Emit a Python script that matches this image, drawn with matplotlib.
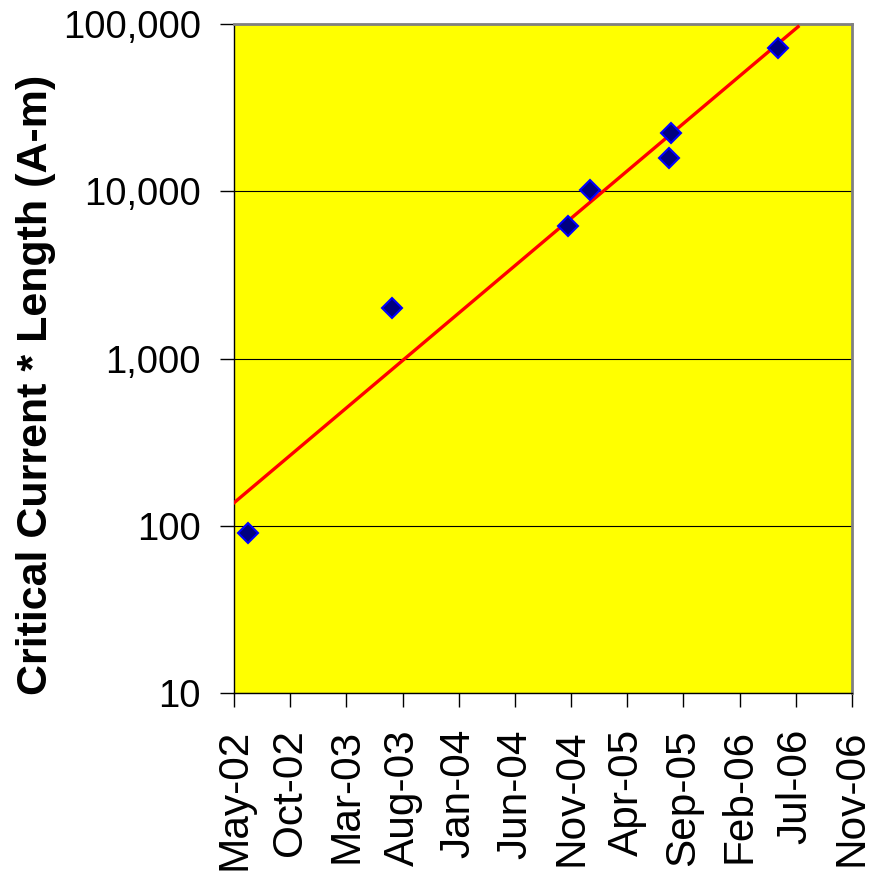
import numpy as np
import matplotlib
matplotlib.use("Agg")
import matplotlib.pyplot as plt
import matplotlib.dates as mdates
from matplotlib.ticker import FixedLocator, NullLocator

# measurement dates and critical current * length (A-m)
meas_dates = ["2002-06-08", "2003-07-03", "2004-10-21", "2004-12-19",
              "2005-07-26", "2005-07-21", "2006-05-11"]
ic_length = [90, 2000, 6200, 10200, 22200, 15800, 71500]

tick_labels = ["May-02", "Oct-02", "Mar-03", "Aug-03", "Jan-04", "Jun-04",
               "Nov-04", "Apr-05", "Sep-05", "Feb-06", "Jul-06", "Nov-06"]
y_ticks = [10, 100, 1000, 10000, 100000]
axis_start = "2002-05-01"
tick_step_days = 152
trend_forecast_days = 55

plt.rcParams["font.family"] = ["Liberation Sans", "DejaVu Sans"]

x = mdates.datestr2num(meas_dates)
y = np.array(ic_length, dtype=float)
x0 = mdates.datestr2num(axis_start)
xticks = x0 + tick_step_days * np.arange(len(tick_labels))

# exponential trendline (linear fit of log10 y against date)
slope, icpt = np.polyfit(x, np.log10(y), 1)
xt = np.linspace(x0, x.max() + trend_forecast_days, 200)
yt = 10 ** (slope * xt + icpt)

fig = plt.figure(figsize=(8.84, 8.74), dpi=100)
ax = fig.add_axes([234 / 884, 1 - 693 / 874, (852 - 234) / 884, (693 - 24) / 874])
ax.set_facecolor("#FFFF00")

ax.plot(xt, yt, color="#FF0000", lw=2.4, zorder=3)
ax.plot(x, y, ls="none", marker="D", ms=10, mfc="#000080", mec="#0000FF",
        mew=1.5, zorder=4)

ax.set_yscale("log")
ax.set_ylim(10, 100000)
ax.set_xlim(xticks[0], xticks[-1])

ax.yaxis.set_major_locator(FixedLocator(y_ticks))
ax.yaxis.set_minor_locator(NullLocator())
ax.set_yticklabels([f"{v:,}" for v in y_ticks])
ax.set_xticks(xticks)
ax.set_xticklabels(tick_labels, rotation=90)

ax.grid(axis="y", which="major", color="black", lw=0.8)
ax.set_axisbelow(True)

ax.tick_params(axis="y", labelsize=27.5, length=10, width=1, pad=14, direction="out")
ax.tick_params(axis="x", labelsize=30.5, length=10, width=1, pad=16, direction="out")

for s in ["top", "right"]:
    ax.spines[s].set_color("#808080")
    ax.spines[s].set_linewidth(2)
for s in ["left", "bottom"]:
    ax.spines[s].set_color("black")
    ax.spines[s].set_linewidth(1)

ax.set_ylabel("Critical Current * Length (A-m)", fontsize=31, fontweight="bold")
ax.yaxis.set_label_coords(-0.288, 0.46)

fig.savefig("out.png", dpi=100)
